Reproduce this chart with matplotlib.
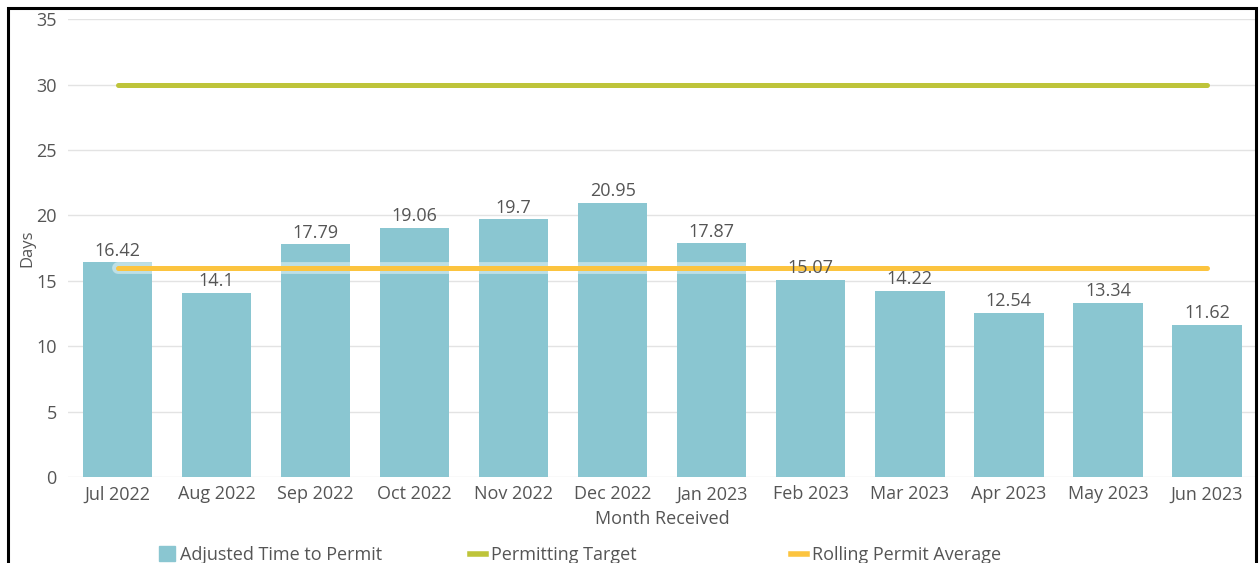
import matplotlib.pyplot as plt
import matplotlib.patheffects as pe
from matplotlib.patches import Rectangle, Patch
from matplotlib.lines import Line2D

plt.rcParams['font.family'] = ['Open Sans', 'DejaVu Sans']

months = ['Jul 2022', 'Aug 2022', 'Sep 2022', 'Oct 2022', 'Nov 2022', 'Dec 2022',
          'Jan 2023', 'Feb 2023', 'Mar 2023', 'Apr 2023', 'May 2023', 'Jun 2023']
adjusted = [16.42, 14.1, 17.79, 19.06, 19.7, 20.95, 17.87, 15.07, 14.22, 12.54, 13.34, 11.62]
target = [30] * 12
rolling = [15.96] * 12

bar_col = '#8ac6d1'
target_col = '#bec43a'
rolling_col = '#fcc43f'
txt_col = '#555555'

fig = plt.figure(figsize=(12.59, 5.63), dpi=100)
ax = fig.add_axes([0.054, 0.1527, 0.944, 0.8133])

x = list(range(len(months)))
ax.bar(x, adjusted, width=0.7, color=bar_col, zorder=2)
ax.plot(x, target, color=target_col, lw=3.6, solid_capstyle='round', zorder=3)
ax.plot(x, rolling, color=rolling_col, lw=3.6, solid_capstyle='round', zorder=4,
        path_effects=[pe.Stroke(linewidth=8.5, foreground='white', alpha=0.45), pe.Normal()])

for i, v in enumerate(adjusted):
    ax.text(i, v + 0.2, f'{v:g}', ha='center', va='bottom', fontsize=13, color=txt_col, zorder=5)

ax.set_xlim(-0.5, 11.5)
ax.set_ylim(0, 35)
ax.set_yticks(range(0, 36, 5))
ax.set_xticks(x)
ax.set_xticklabels(months)
ax.tick_params(axis='both', length=0, labelsize=13, colors=txt_col)
ax.tick_params(axis='y', pad=8)
ax.tick_params(axis='x', pad=6)
ax.grid(axis='y', color='#e3e3e3', lw=1, zorder=0)
ax.set_axisbelow(True)
for s in ax.spines.values():
    s.set_visible(False)

fig.text(27 / 1259, 1 - 248 / 563, 'Days', rotation=90, ha='center', va='center',
         fontsize=12, color=txt_col)
ax.set_xlabel('Month Received', fontsize=13, color=txt_col, labelpad=5)

# legend, three fixed-width items
items = [
    (Patch(color=bar_col), 'Adjusted Time to Permit', 0.126, 0.9, 0.9),
    (Line2D([], [], color=target_col, lw=4), 'Permitting Target', 0.3735, 0.85, 0.7),
    (Line2D([], [], color=rolling_col, lw=4), 'Rolling Permit Average', 0.6285, 0.85, 0.7),
]
for h, lab, xpos, hl, hh in items:
    fig.legend([h], [lab], loc='center left', bbox_to_anchor=(xpos, 0.014), frameon=False,
               fontsize=13, labelcolor=txt_col, handlelength=hl, handleheight=hh,
               handletextpad=0.3, borderpad=0, borderaxespad=0)

fig.patches.append(Rectangle((8 / 1259, -0.1), 1248 / 1259, 1 - 8 / 563 + 0.1,
                             transform=fig.transFigure, fill=False, ec='black', lw=2.2))

fig.savefig('out.png', dpi=100)
